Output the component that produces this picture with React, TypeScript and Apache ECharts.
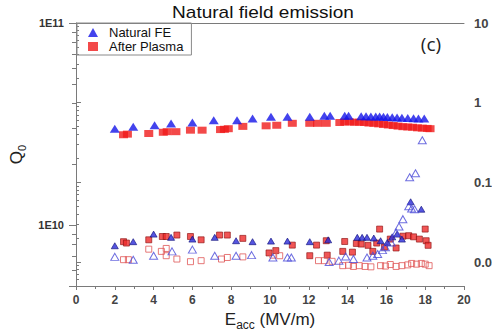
import React, { useEffect, useRef } from "react";
import * as echarts from "echarts";

// Q0 vs accelerating gradient (left, log axis)
const natFeEacc = [2.0, 2.95, 4.05, 4.9, 6.0, 7.1, 8.3, 9.1, 10.05, 10.9, 12.05, 12.8, 13.1, 13.85, 14.05, 14.7, 14.95, 15.2, 15.45, 15.65, 15.85, 16.05, 16.3, 16.55, 16.8, 17.1, 17.4, 17.65, 17.95];
const natFeQ0 = [3.0e10, 3.07e10, 3.12e10, 3.18e10, 3.22e10, 3.3e10, 3.3e10, 3.37e10, 3.44e10, 3.44e10, 3.44e10, 3.48e10, 3.48e10, 3.48e10, 3.48e10, 3.46e10, 3.46e10, 3.45e10, 3.45e10, 3.45e10, 3.44e10, 3.43e10, 3.42e10, 3.41e10, 3.4e10, 3.39e10, 3.38e10, 3.37e10, 3.37e10];

const plasmaEacc = [2.45, 2.65, 3.75, 4.5, 4.7, 5.15, 5.9, 6.5, 7.45, 7.65, 7.85, 8.6, 9.8, 10.35, 11.15, 12.05, 12.45, 12.9, 13.6, 13.85, 14.1, 14.35, 14.6, 14.85, 15.1, 15.35, 15.6, 15.85, 16.1, 16.35, 16.6, 16.85, 17.1, 17.35, 17.6, 17.85, 18.1, 18.25];
const plasmaQ0 = [2.8e10, 2.82e10, 2.84e10, 2.88e10, 2.9e10, 2.9e10, 2.95e10, 2.95e10, 2.97e10, 2.98e10, 3.0e10, 3.08e10, 3.1e10, 3.12e10, 3.19e10, 3.19e10, 3.19e10, 3.19e10, 3.22e10, 3.24e10, 3.24e10, 3.23e10, 3.23e10, 3.22e10, 3.2e10, 3.19e10, 3.17e10, 3.15e10, 3.13e10, 3.11e10, 3.09e10, 3.07e10, 3.06e10, 3.05e10, 3.03e10, 3.02e10, 3.01e10, 3.0e10];

// Radiation readings (right, log axis): filled = detector 1, open = detector 2
const natFeRad1Eacc = [2.0, 2.95, 4.0, 4.9, 6.0, 7.15, 8.25, 9.1, 10.05, 10.9, 12.05, 13.0, 14.5, 14.75, 15.0, 15.35, 15.7, 16.05, 16.3, 16.55, 16.8, 17.25, 17.8];
const natFeRad1 = [0.016, 0.018, 0.0224, 0.0204, 0.0194, 0.0204, 0.0185, 0.018, 0.0183, 0.0183, 0.018, 0.019, 0.0204, 0.0204, 0.0204, 0.02, 0.0185, 0.0176, 0.0207, 0.0224, 0.0194, 0.057, 0.046];

const natFeRad2Eacc = [2.0, 2.95, 4.0, 4.95, 6.0, 7.15, 8.25, 9.05, 10.15, 10.9, 11.1, 13.05, 13.55, 13.9, 14.3, 15.0, 15.3, 15.55, 15.8, 15.95, 16.25, 16.5, 16.65, 16.85, 17.15, 17.3, 17.45, 17.2, 17.5, 17.85];
const natFeRad2 = [0.0116, 0.0107, 0.012, 0.0136, 0.0143, 0.012, 0.012, 0.0122, 0.0114, 0.0114, 0.0114, 0.01, 0.0104, 0.0117, 0.0109, 0.0114, 0.012, 0.0126, 0.0141, 0.0153, 0.0176, 0.0235, 0.0279, 0.0345, 0.05, 0.047, 0.046, 0.116, 0.13, 0.338];

const plasmaRad1Eacc = [2.45, 2.6, 3.75, 4.45, 4.65, 5.2, 5.9, 6.45, 7.4, 7.8, 8.6, 9.95, 10.3, 11.15, 12.05, 12.4, 12.9, 12.95, 13.75, 13.85, 14.25, 14.45, 14.7, 15.05, 15.3, 15.5, 15.65, 15.9, 16.2, 16.5, 16.85, 17.15, 17.4, 17.7, 18.0, 18.05, 18.15];
const plasmaRad1 = [0.018, 0.0173, 0.019, 0.0209, 0.0209, 0.0218, 0.0209, 0.019, 0.0218, 0.0218, 0.0198, 0.013, 0.0139, 0.0163, 0.012, 0.0163, 0.0185, 0.0122, 0.0136, 0.0181, 0.0133, 0.0171, 0.0168, 0.0162, 0.0136, 0.0173, 0.0259, 0.0154, 0.0194, 0.015, 0.0211, 0.0214, 0.0207, 0.0194, 0.0259, 0.0185, 0.0162];

const plasmaRad2Eacc = [2.45, 2.7, 3.75, 4.4, 4.65, 4.65, 5.2, 5.9, 6.45, 7.5, 7.8, 8.6, 10.15, 10.5, 12.5, 12.8, 13.2, 13.75, 14.05, 14.3, 14.6, 14.9, 15.2, 15.7, 15.95, 16.2, 16.5, 16.8, 17.1, 17.3, 17.55, 17.8, 18.0, 18.2];
const plasmaRad2 = [0.0107, 0.0107, 0.0145, 0.0136, 0.0148, 0.012, 0.0109, 0.0101, 0.0104, 0.0109, 0.0114, 0.0116, 0.0122, 0.012, 0.0104, 0.0104, 0.0102, 0.009, 0.0091, 0.0088, 0.009, 0.0088, 0.0087, 0.009, 0.0089, 0.0093, 0.0088, 0.009, 0.0092, 0.0096, 0.0094, 0.0096, 0.0094, 0.009];

const xTicks = { min: 0, max: 20, interval: 2 };
const q0Range = { min: 5e9, max: 1e11 };
const radRange = { min: 0.005, max: 10 };

const BLUE = "#1414e8";
const RED = "#f01c1c";
const AXIS = "#7a7a7a";
const FONT = "'Liberation Sans', Arial, sans-serif";

const pairs = (xs: number[], ys: number[]) => xs.map((x, i) => [x, ys[i]]);

const decade = (v: number): number | null => {
  const e = Math.log10(v);
  const r = Math.round(e);
  return Math.abs(e - r) < 1e-6 ? r : null;
};

export default function App() {
  const ref = useRef<HTMLDivElement>(null);

  useEffect(() => {
    if (!ref.current) return;
    const chart = echarts.init(ref.current, null, { renderer: "svg" });
    chart.setOption({
      animation: false,
      backgroundColor: "#ffffff",
      textStyle: { fontFamily: FONT },
      grid: { left: 76, right: 28, top: 23, bottom: 43, containLabel: false, outerBoundsMode: "none" },
      legend: {
        data: ["Natural FE", "After Plasma"],
        orient: "vertical",
        left: 77,
        top: 23,
        padding: [3, 8, 2, 11],
        itemGap: 1,
        itemWidth: 10,
        itemHeight: 9,
        borderColor: "#8a8a8a",
        borderWidth: 1,
        selectedMode: false,
        textStyle: { fontSize: 13, lineHeight: 12, color: "#111", fontFamily: FONT, padding: [0, 0, 0, 6] },
      },
      graphic: [
        {
          type: "text",
          x: 263,
          y: 12,
          scaleX: 1.12,
          style: {
            text: "Natural field emission",
            font: `17px ${FONT}`,
            fill: "#111",
            align: "center",
            verticalAlign: "middle",
            textAlign: "center",
            textVerticalAlign: "middle",
          },
        },
        {
          type: "text",
          x: 431,
          y: 44,
          style: {
            text: "(c)",
            font: `19px 'Open Sans', sans-serif`,
            fill: "#222",
            align: "center",
            verticalAlign: "middle",
            textAlign: "center",
            textVerticalAlign: "middle",
          },
        },
      ],
      xAxis: [
        {
          type: "value",
          position: "bottom",
          ...xTicks,
          name: "E{sub|acc} (MV/m)",
          nameLocation: "middle",
          nameGap: 17,
          nameTextStyle: {
            fontSize: 17,
            color: "#222",
            fontFamily: FONT,
            rich: { sub: { fontSize: 12, color: "#222", padding: [11, 0, 0, 0], fontFamily: FONT } },
          },
          axisLine: { show: true, lineStyle: { color: AXIS, width: 1 } },
          axisTick: { show: true, length: 4, lineStyle: { color: AXIS } },
          minorTick: { show: true, splitNumber: 2, length: 3, lineStyle: { color: AXIS } },
          axisLabel: { fontSize: 12, fontWeight: "bold", color: "#444", margin: 8, fontFamily: FONT },
          splitLine: { show: false },
        },
        {
          type: "value",
          position: "top",
          ...xTicks,
          axisLine: { show: true, lineStyle: { color: AXIS, width: 1 } },
          axisTick: { show: false },
          axisLabel: { show: false },
          splitLine: { show: false },
        },
      ],
      yAxis: [
        {
          type: "log",
          logBase: 10,
          position: "left",
          ...q0Range,
          name: "Q{sub|0}",
          nameLocation: "middle",
          nameGap: 48,
          nameTextStyle: {
            fontSize: 17,
            color: "#222",
            fontFamily: FONT,
            rich: { sub: { fontSize: 11, color: "#222", padding: [10, 0, 0, 0], fontFamily: FONT } },
          },
          axisLine: { show: true, lineStyle: { color: AXIS, width: 1 } },
          axisTick: { show: true, length: 7, lineStyle: { color: AXIS } },
          minorTick: { show: true, splitNumber: 9, length: 4, lineStyle: { color: AXIS } },
          axisLabel: {
            fontSize: 11,
            fontWeight: "bold",
            color: "#333",
            margin: 12,
            fontFamily: FONT,
            formatter: (v: number) => {
              const e = decade(v);
              return e === null ? "" : `1E${e}`;
            },
          },
          splitLine: { show: false },
        },
        {
          type: "log",
          logBase: 10,
          position: "right",
          ...radRange,
          axisLine: { show: true, lineStyle: { color: AXIS, width: 1 } },
          axisTick: { show: true, length: 5, lineStyle: { color: AXIS } },
          minorTick: { show: true, splitNumber: 9, length: 3, lineStyle: { color: AXIS } },
          axisLabel: {
            fontSize: 13,
            fontWeight: "bold",
            color: "#444",
            margin: 10,
            fontFamily: FONT,
            formatter: (v: number) => {
              const e = decade(v);
              if (e === null) return "";
              return e >= 0 ? String(Math.pow(10, e)) : (1 / Math.pow(10, -e)).toFixed(-e);
            },
          },
          splitLine: { show: false },
        },
      ],
      series: [
        {
          name: "Natural FE",
          type: "scatter",
          yAxisIndex: 0,
          symbol: "triangle",
          symbolSize: [10, 8],
          itemStyle: { color: BLUE },
          data: pairs(natFeEacc, natFeQ0),
          z: 3,
        },
        {
          name: "After Plasma",
          type: "scatter",
          yAxisIndex: 0,
          symbol: "rect",
          symbolSize: [9, 7],
          itemStyle: { color: RED },
          data: pairs(plasmaEacc, plasmaQ0),
          z: 2,
        },
        {
          name: "Natural FE radiation 1",
          type: "scatter",
          yAxisIndex: 1,
          symbol: "triangle",
          symbolSize: [7, 6],
          itemStyle: { color: "#2a2ad8", borderColor: "#10107a", borderWidth: 0.8 },
          data: pairs(natFeRad1Eacc, natFeRad1),
          z: 3,
        },
        {
          name: "Natural FE radiation 2",
          type: "scatter",
          yAxisIndex: 1,
          symbol: "triangle",
          symbolSize: [8, 7],
          itemStyle: { color: "rgba(255,255,255,0)", borderColor: "#4a4ad8", borderWidth: 1 },
          data: pairs(natFeRad2Eacc, natFeRad2),
          z: 3,
        },
        {
          name: "After Plasma radiation 1",
          type: "scatter",
          yAxisIndex: 1,
          symbol: "rect",
          symbolSize: [6, 6],
          itemStyle: { color: "#ee2a2a", borderColor: "#8a1010", borderWidth: 0.8 },
          data: pairs(plasmaRad1Eacc, plasmaRad1),
          z: 2,
        },
        {
          name: "After Plasma radiation 2",
          type: "scatter",
          yAxisIndex: 1,
          symbol: "rect",
          symbolSize: [6, 6],
          itemStyle: { color: "rgba(255,255,255,0)", borderColor: "#e05858", borderWidth: 1 },
          data: pairs(plasmaRad2Eacc, plasmaRad2),
          z: 2,
        },
      ],
    });
    return () => chart.dispose();
  }, []);

  return (
    <div
      ref={ref}
      style={{ position: "fixed", left: 0, top: 0, width: 492, height: 329, background: "#ffffff" }}
    />
  );
}
